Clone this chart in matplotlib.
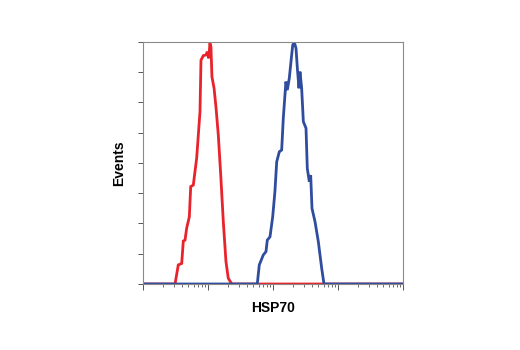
import numpy as np
import matplotlib
matplotlib.use('Agg')
import matplotlib.pyplot as plt
from matplotlib.ticker import LogLocator, NullFormatter

# --- HSP70 flow cytometry histograms ---
# red: control / isotype, blue: HSP70 stained
red_x = [1, 3.11, 3.49, 3.94, 4.17, 4.43, 4.70, 5.16, 5.42, 5.94, 6.70, 7.53, 7.80,
         8.47, 9.31, 9.75, 10.3, 10.7, 11.1, 11.5, 12.4, 13.3, 14.4, 15.7, 17.2,
         18.9, 20.5, 23.2, 10000]
red_y = [0, 0, 0.63, 0.68, 1.42, 1.45, 1.85, 2.22, 3.22, 3.27, 4.17, 5.70, 7.40,
         7.55, 7.57, 7.68, 7.46, 7.96, 7.84, 6.85, 6.47, 5.82, 4.93, 3.60, 2.06,
         0.74, 0.19, 0, 0]

blue_x = [1, 57.3, 61.5, 70.9, 78.0, 81.7, 89.9, 98.9, 107, 114, 125, 136, 144,
          158, 166, 178, 201, 213, 226, 237, 251, 260, 276, 293, 322, 337, 362,
          380, 398, 443, 498, 561, 609, 10000]
blue_y = [0, 0, 0.63, 0.96, 1.07, 1.45, 1.56, 2.22, 3.05, 4.04, 4.37, 4.43, 5.48,
          6.69, 6.41, 6.80, 7.90, 7.99, 7.79, 7.13, 6.47, 7.02, 6.47, 5.37, 5.15,
          3.82, 3.38, 3.60, 2.50, 2.06, 1.40, 0.52, 0, 0]

fig = plt.figure(figsize=(5.2, 3.5), dpi=100)
ax = fig.add_axes([0.275, 0.1886, 0.5, 0.6914])

ax.plot(red_x, red_y, color='#e8232b', lw=2.0, solid_joinstyle='miter')
ax.plot(blue_x, blue_y, color='#2f4c9e', lw=2.0, solid_joinstyle='miter')

ax.set_xscale('log')
ax.set_xlim(1, 10000)
ax.set_ylim(0, 8)
ax.set_yticks(np.arange(0, 9, 1))
ax.set_yticklabels([])
ax.xaxis.set_major_locator(LogLocator(base=10, numticks=10))
ax.xaxis.set_minor_locator(LogLocator(base=10, subs=np.arange(2, 10), numticks=20))
ax.xaxis.set_major_formatter(NullFormatter())
ax.xaxis.set_minor_formatter(NullFormatter())

for s in ax.spines.values():
    s.set_color('#8a8a8a')
    s.set_linewidth(0.8)
ax.tick_params(axis='y', direction='out', length=3.5, width=0.7, color='#555555')
ax.tick_params(axis='x', which='major', direction='out', length=4, width=0.7, color='#555555')
ax.tick_params(axis='x', which='minor', direction='out', length=2.5, width=0.6, color='#555555')

font = ['Liberation Sans', 'DejaVu Sans']
ax.set_xlabel('HSP70', fontsize=10, fontweight='bold', family=font, labelpad=5)
ax.set_ylabel('Events', fontsize=10, fontweight='bold', family=font, labelpad=5)

plt.savefig('out.png', dpi=100)
